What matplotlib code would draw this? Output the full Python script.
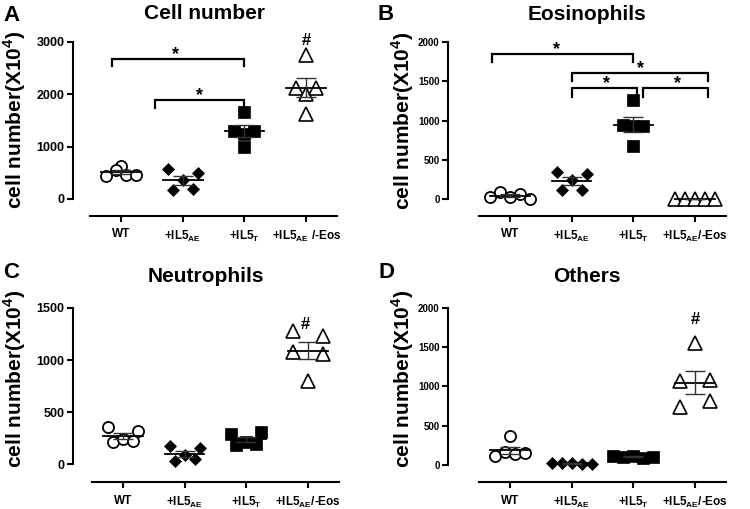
import numpy as np
import matplotlib
matplotlib.use("Agg")
import matplotlib.pyplot as plt

plt.rcParams['font.family'] = ['Liberation Sans', 'DejaVu Sans']
plt.rcParams['font.weight'] = 'bold'
plt.rcParams['mathtext.fontset'] = 'custom'
plt.rcParams['mathtext.rm'] = 'Liberation Sans'
plt.rcParams['mathtext.bf'] = 'Liberation Sans:bold'

W, H = 750, 509

# group labels
groups = ["WT", r"+IL5$_{\mathrm{AE}}$", r"+IL5$_{\mathrm{T}}$", r"+IL5$_{\mathrm{AE}}$/-Eos"]
groups_a = ["WT", r"+IL5$_{\mathrm{AE}}$", r"+IL5$_{\mathrm{T}}$", r"+IL5$_{\mathrm{AE}}$ /-Eos"]

# values (x10^4 cells), 5 mice per group
cell_wt = [640, 430, 550, 460, 460]
cell_ae = [170, 360, 570, 500, 185]
cell_t = [1290, 1670, 1240, 1000, 1290]
cell_eos = [2130, 2760, 2000, 1620, 2130]

eos_wt = [20, 90, 30, 70, 0]
eos_ae = [350, 120, 240, 320, 120]
eos_t = [950, 1260, 930, 680, 930]
eos_eos = [4, 3, 5, 2, 4]

neu_wt = [210, 360, 240, 320, 220]
neu_ae = [175, 30, 90, 155, 50]
neu_t = [290, 180, 210, 310, 190]
neu_eos = [1280, 1080, 800, 1230, 1060]

oth_wt = [370, 110, 170, 140, 150]
oth_ae = [25, 20, 22, 18, 15]
oth_t = [110, 100, 120, 95, 105]
oth_eos = [1550, 1070, 1080, 740, 810]

# significance annotations: (x1, x2, y, drop, x_star)
brackets_a = [(-0.15, 2.0, 2677, 135, 0.88), (0.55, 2.0, 1893, 150, 1.27)]
brackets_b = [(-0.28, 2.0, 1852, 102, 0.75), (1.0, 3.21, 1609, 102, 2.11),
              (1.0, 2.06, 1418, 115, 1.56), (2.16, 3.21, 1418, 115, 2.71)]
hash_a = (3.0, 2945)
hash_c = (2.95, 1298)
hash_d = (3.0, 1796)

styles = [dict(marker='o', mfc='white', mec='black', ms=8, mew=1.3),
          dict(marker='D', mfc='black', mec='black', ms=6.5, mew=0.5),
          dict(marker='s', mfc='black', mec='black', ms=8, mew=0.5),
          dict(marker='^', mfc='white', mec='black', ms=9.5, mew=1.2)]


def swarm(ax, xc, values, thresh=10.0, step=10.0):
    """GraphPad-like spreading: points within `thresh` px in y share a row."""
    x0 = ax.transData.transform((0, 0))[0]
    ppu = ax.transData.transform((1, 0))[0] - x0
    ypx = [ax.transData.transform((xc, v))[1] for v in values]
    order = sorted(range(len(values)), key=lambda i: ypx[i])
    bins, cur = [], [order[0]]
    for i in order[1:]:
        if ypx[i] - ypx[cur[0]] < thresh:
            cur.append(i)
        else:
            bins.append(cur)
            cur = [i]
    bins.append(cur)
    xs = [xc] * len(values)
    for b in bins:
        b = sorted(b)
        n = len(b)
        if n == 2:
            offs = [-1.5 * step, 1.5 * step]
        else:
            offs = [(j - (n - 1) / 2) * step for j in range(n)]
        for i, o in zip(b, offs):
            xs[i] = xc + o / ppu
    return xs


def panel(rect, data, ylim, yticks, xleft, labels, title, letter, ytick_fs, ylab_x, ylab_y):
    l, r, t, b = rect
    ax = fig.add_axes([l / W, 1 - b / H, (r - l) / W, (b - t) / H])
    ax.set_xlim(xleft, 3.5)
    ax.set_ylim(*ylim)
    for i, vals in enumerate(data):
        xs = swarm(ax, i, vals)
        ax.plot(xs, vals, ls='none', zorder=3, clip_on=False, **styles[i])
        m = np.mean(vals)
        s = np.std(vals, ddof=1) / np.sqrt(len(vals))
        ax.plot([i - 0.32, i + 0.32], [m, m], color='black', lw=1.3, zorder=4)
        ax.errorbar(i, m, yerr=s, fmt='none', ecolor='#333333', elinewidth=1,
                    capsize=7.5, capthick=1, zorder=4)
    ax.set_xticks(range(4))
    ax.set_xticklabels(labels, fontsize=8.5, fontweight='bold')
    ax.set_yticks(yticks)
    ax.set_yticklabels([str(v) for v in yticks], fontsize=ytick_fs, fontweight='bold')
    for s in ['top', 'right']:
        ax.spines[s].set_visible(False)
    for s in ['left', 'bottom']:
        ax.spines[s].set_linewidth(1.5)
    ax.spines['left'].set_bounds(0, yticks[-1])
    ax.spines['bottom'].set_bounds(-0.5, 3.5)
    ax.tick_params(direction='out', length=4, width=1.5, pad=2)
    ax.tick_params(axis='x', pad=5)
    ax.set_ylabel(r"cell number(X10$^{\mathbf{4}}$)", fontsize=15, fontweight='bold')
    ax.yaxis.set_label_coords(ylab_x, ylab_y)
    fig.text(((l + r) / 2) / W, 1 - title[1] / H, title[0], ha='center', va='baseline',
             fontsize=15, fontweight='bold')
    fig.text(letter[1] / W, 1 - letter[2] / H, letter[0], ha='left', va='baseline',
             fontsize=16, fontweight='bold')
    return ax


def bracket(ax, x1, x2, y, h, xs):
    ax.plot([x1, x1, x2, x2], [y - h, y, y, y - h], color='black', lw=1.6,
            clip_on=False, solid_joinstyle='miter')
    ax.text(xs, y, '*', ha='center', va='baseline', fontsize=13, fontweight='bold')


fig = plt.figure(figsize=(W / 100, H / 100), dpi=100)

ax_a = panel((73, 337, 42, 216), [cell_wt, cell_ae, cell_t, cell_eos], (-325, 3000),
             [0, 1000, 2000, 3000], -0.78, groups_a, ("Cell number", 19), ("A", 3, 21),
             9, -0.17, 0.55)
ax_b = panel((448, 726, 42.3, 216), [eos_wt, eos_ae, eos_t, eos_eos], (-217, 2000),
             [0, 500, 1000, 1500, 2000], -1.0, groups, ("Eosinophils", 20), ("B", 377, 20),
             7, -0.115, 0.55)
ax_c = panel((73, 339, 308, 482), [neu_wt, neu_ae, neu_t, neu_eos], (-173, 1500),
             [0, 500, 1000, 1500], -0.81, groups, ("Neutrophils", 282), ("C", 3, 278),
             9, -0.17, 0.59)
ax_d = panel((448, 726, 308, 482), [oth_wt, oth_ae, oth_t, oth_eos], (-217, 2000),
             [0, 500, 1000, 1500, 2000], -1.0, groups, ("Others", 282), ("D", 378, 278),
             7, -0.115, 0.59)

for br in brackets_a:
    bracket(ax_a, *br)
for br in brackets_b:
    bracket(ax_b, *br)

for ax, (hx, hy) in [(ax_a, hash_a), (ax_c, hash_c), (ax_d, hash_d)]:
    ax.text(hx, hy, '#', ha='center', va='baseline', fontsize=12, fontweight='bold')

fig.savefig("out.png", dpi=100)
